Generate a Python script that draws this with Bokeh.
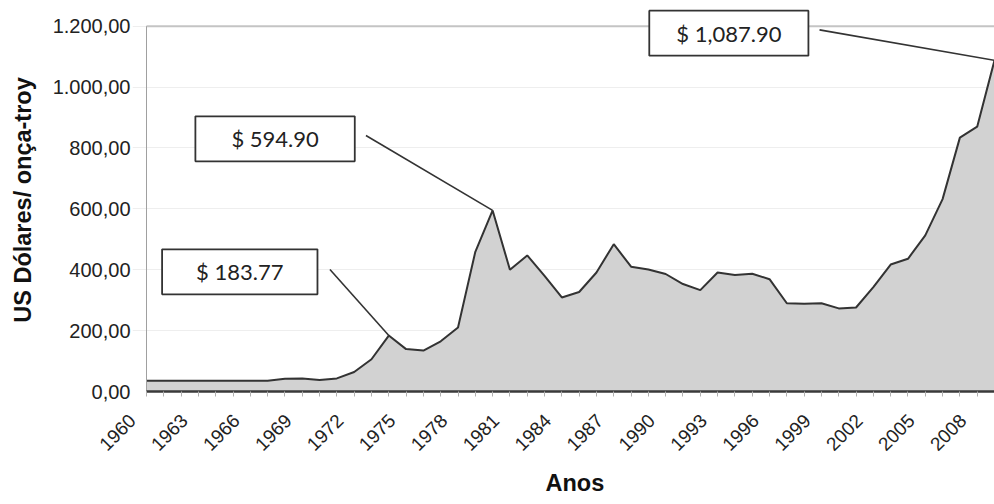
import math
from bokeh.plotting import figure
from bokeh.models import Label, FixedTicker, Range1d, LinearAxis, Title
from bokeh.embed import file_html
from bokeh.resources import INLINE

# ---- data (year-end gold price, US$ per troy ounce) ----
years = list(range(1960, 2010))
prices = [35.27, 35.50, 35.25, 35.50, 35.12, 35.12, 35.15, 35.20,
          42.0, 43.0, 38.0, 43.0, 64.0, 106.0, 183.77, 139.29, 134.50, 164.95,
          210.0, 459.0, 594.90, 400.0, 447.0, 380.0, 309.0, 327.0, 391.0, 484.0,
          410.0, 401.0, 386.0, 353.0, 333.0, 391.0, 383.0, 387.0, 369.0, 290.0,
          288.0, 290.0, 273.0, 276.0, 343.0, 417.0, 436.0, 513.0, 632.0, 834.0,
          870.0, 1087.90]
y_ticks = [0, 200, 400, 600, 800, 1000, 1200]
y_tick_labels = ["0,00", "200,00", "400,00", "600,00", "800,00", "1.000,00", "1.200,00"]
x_label_years = list(range(1960, 2010, 3))
ann_years = [1974, 1980, 2009]
ann_values = [183.77, 594.90, 1087.90]
ann_texts = ["$ 183.77", "$ 594.90", "$ 1,087.90"]

# ---- layout / styling constants ----
box_centers = [(1965.39, 393), (1967.43, 830), (1993.65, 1177)]
leader_starts = [(1970.6, 401), (1972.68, 841), (1998.89, 1188)]
box_pads = [34, 36, 27]
x_first, x_last = years[0], years[-1]
y_max = max(y_ticks)
px_per_year = (994 - 146) / (x_last - x_first)
lead = 14 / px_per_year                 # year labels sit 14px left of their tick
frame_px_top, frame_px_1200, frame_px_0 = 8, 26, 397
y_view_top = y_max * (frame_px_0 - frame_px_top) / (frame_px_0 - frame_px_1200)

p = figure(width=994, height=504, output_backend="svg", toolbar_location=None,
           x_range=Range1d(x_first - lead, x_last), y_range=Range1d(0, y_view_top),
           min_border_left=132, min_border_right=0, min_border_top=frame_px_top,
           min_border_bottom=107)
p.outline_line_color = None
p.background_fill_color = "white"

# grids
p.xgrid.grid_line_color = None
p.ygrid.grid_line_color = "#eeeeee"
p.ygrid.grid_line_width = 1

# area
p.varea(x=years, y1=[0] * len(years), y2=prices, fill_color="#d2d2d2")
p.line(x=years, y=prices, line_color="#333333", line_width=2)

# plot-area border: top line and left axis line
p.segment(x0=[x_first], y0=[y_max], x1=[x_last], y1=[y_max], line_color="#c4c4c4", line_width=2)
p.segment(x0=[x_first], y0=[0], x1=[x_first], y1=[y_max], line_color="#a0a0a0", line_width=1)

# y axis
p.yaxis.ticker = FixedTicker(ticks=y_ticks)
p.yaxis.bounds = (0, y_max)
p.yaxis.major_label_overrides = {t: l for t, l in zip(y_ticks, y_tick_labels)}
p.yaxis.axis_line_color = None
p.yaxis.major_tick_out = 0
p.yaxis.major_tick_in = 0
p.yaxis.major_tick_line_color = None
p.yaxis.minor_tick_line_color = None
p.yaxis.major_label_standoff = 2
p.yaxis.major_label_text_font = "Liberation Sans"
p.yaxis.major_label_text_font_size = "20px"
p.yaxis.major_label_text_color = "#222222"
p.yaxis.axis_label = "US Dólares/ onça-troy"
p.yaxis.axis_label_text_font = "Liberation Sans"
p.yaxis.axis_label_text_font_style = "bold"
p.yaxis.axis_label_text_font_size = "23.5px"
p.yaxis.axis_label_text_color = "#111111"
p.yaxis.axis_label_standoff = 14

# x axis: line + a tick every year
p.xaxis.ticker = FixedTicker(ticks=years)
p.xaxis.bounds = (x_first, x_last)
p.xaxis.major_label_overrides = {y: "" for y in years}
p.xaxis.axis_line_color = "#3a3a3a"
p.xaxis.axis_line_width = 2.5
p.xaxis.major_tick_out = 5
p.xaxis.major_tick_in = 0
p.xaxis.major_tick_line_color = "#b0b0b0"
p.xaxis.minor_tick_line_color = None
p.xaxis.major_label_standoff = 0

# rotated year labels every 3 years
p.extra_x_ranges = {"lab": Range1d(x_first, x_last + lead)}
lab_axis = LinearAxis(x_range_name="lab", ticker=FixedTicker(ticks=x_label_years))
lab_axis.axis_line_color = None
lab_axis.major_tick_line_color = None
lab_axis.minor_tick_line_color = None
lab_axis.major_tick_out = 0
lab_axis.major_tick_in = 0
lab_axis.major_label_orientation = math.pi / 4
lab_axis.major_label_standoff = 21
lab_axis.major_label_text_font = "Liberation Sans"
lab_axis.major_label_text_font_size = "19px"
lab_axis.major_label_text_color = "#222222"
p.add_layout(lab_axis, "below")

p.add_layout(Title(text="Anos", align="left", offset=413, text_font="Liberation Sans",
                   text_font_style="bold", text_font_size="23.5px",
                   text_color="#111111", standoff=17), "below")

# leader lines and boxes
p.segment(x0=[s[0] for s in leader_starts], y0=[s[1] for s in leader_starts],
          x1=ann_years, y1=ann_values, line_color="#333333", line_width=1.6)

for (cx, cy), txt, pad in zip(box_centers, ann_texts, box_pads):
    p.add_layout(Label(x=cx, y=cy, text=txt, text_align="center", text_baseline="middle",
                       text_font="Lato", text_font_size="22px", text_color="#222222",
                       background_fill_color="white", border_line_color="#333333",
                       border_line_width=1.8,
                       padding=dict(left=pad, right=pad, top=9, bottom=9)))

open("out.html", "w").write(file_html(p, INLINE))
